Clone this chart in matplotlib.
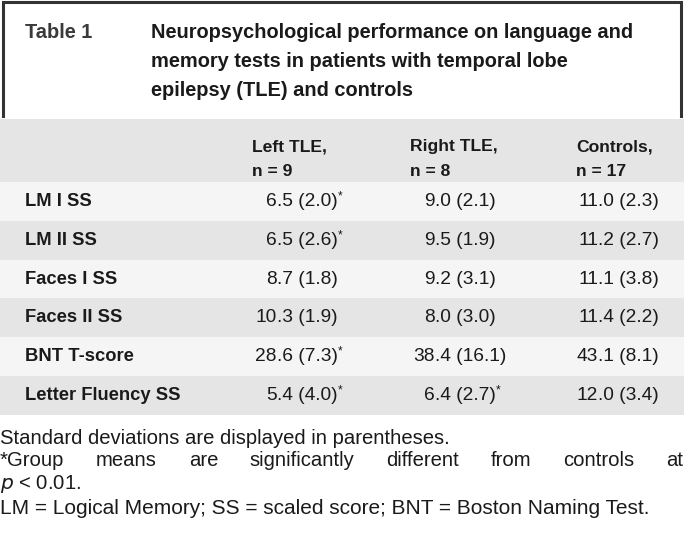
import matplotlib.pyplot as plt
from matplotlib.patches import Rectangle

# Table content
table_label = "Table 1"
title_lines = [
    "Neuropsychological performance on language and",
    "memory tests in patients with temporal lobe",
    "epilepsy (TLE) and controls",
]
col_headers = [("Left TLE,", "n = 9"), ("Right TLE,", "n = 8"), ("Controls,", "n = 17")]
row_labels = ["LM I SS", "LM II SS", "Faces I SS", "Faces II SS",
              "BNT T-score", "Letter Fluency SS"]
left_tle = ["6.5 (2.0)*", "6.5 (2.6)*", "8.7 (1.8)", "10.3 (1.9)", "28.6 (7.3)*", "5.4 (4.0)*"]
right_tle = ["9.0 (2.1)", "9.5 (1.9)", "9.2 (3.1)", "8.0 (3.0)", "38.4 (16.1)", "6.4 (2.7)*"]
controls = ["11.0 (2.3)", "11.2 (2.7)", "11.1 (3.8)", "11.4 (2.2)", "43.1 (8.1)", "12.0 (3.4)"]
footnote_1 = "Standard deviations are displayed in parentheses."
footnote_2 = "*Group means are significantly different from controls at"
footnote_3 = "$\\it{p}$ < 0.01."
footnote_4 = "LM = Logical Memory; SS = scaled score; BNT = Boston Naming Test."

plt.rcParams["font.family"] = ["Liberation Sans", "DejaVu Sans"]
TXT = "#1a1a1a"
GRAY = "#e5e5e5"
LIGHT = "#f5f5f5"

W, H = 684, 545
fig = plt.figure(figsize=(W / 100, H / 100), dpi=100)
ax = fig.add_axes([0, 0, 1, 1])
ax.set_xlim(0, W)
ax.set_ylim(H, 0)
ax.axis("off")

# title box border (top, left, right)
ax.plot([3, 3, 681, 681], [116, 2, 2, 116], color="#333333", lw=2.2,
        solid_joinstyle="miter")

ax.text(25, 32, table_label, fontsize=14.4, fontweight="bold", color="#3a3a3a",
        va="center")
for i, line in enumerate(title_lines):
    ax.text(151, 32 + i * 29.5, line, fontsize=14.4, fontweight="bold",
            color=TXT, va="center")

# header band
header_top, header_bot = 119, 182
ax.add_patch(Rectangle((0, header_top), W, header_bot - header_top, color=GRAY, lw=0))
col_x = [252, 410, 576]
for (h1, h2), x in zip(col_headers, col_x):
    ax.text(x, 147, h1, fontsize=12.6, fontweight="bold", color=TXT, va="center")
    ax.text(x, 171, h2, fontsize=12.6, fontweight="bold", color=TXT, va="center")

# body rows
row_h = 38.8
dec_x = [277, 435, 598]
fig.canvas.draw()
rend = fig.canvas.get_renderer()
for r, label in enumerate(row_labels):
    top = header_bot + r * row_h
    ax.add_patch(Rectangle((0, top), W, row_h, color=LIGHT if r % 2 == 0 else GRAY, lw=0))
    yc = top + row_h / 2
    ax.text(25, yc, label, fontsize=13.2, fontweight="bold", color=TXT, va="center")
    for col, x in zip([left_tle, right_tle, controls], dec_x):
        s = col[r]
        star = s.endswith("*")
        s = s.rstrip("*")
        ip, rest = s.split(".", 1)
        ax.text(x, yc, ip, fontsize=13.8, color=TXT, va="center", ha="right")
        t = ax.text(x, yc, "." + rest, fontsize=13.8, color=TXT, va="center", ha="left")
        if star:
            bb = t.get_window_extent(renderer=rend).transformed(ax.transData.inverted())
            ax.text(bb.x1, yc - 5, "*", fontsize=8.5, color=TXT, va="center", ha="left")

# footnotes
fs = 14.6
ax.text(0, 438, footnote_1, fontsize=fs, color=TXT, va="center")

# justified line
words = footnote_2.split()
widths = []
tmp = []
for w in words:
    t = ax.text(0, 461, w, fontsize=fs, color=TXT, va="center")
    widths.append(t.get_window_extent(renderer=rend).width)
    tmp.append(t)
gap = (W - 1 - sum(widths)) / (len(words) - 1)
x = 0
for t, w in zip(tmp, widths):
    t.set_x(x)
    x += w + gap

ax.text(0, 484, footnote_3, fontsize=fs, color=TXT, va="center")
ax.text(0, 508, footnote_4, fontsize=15.0, color=TXT, va="center")

fig.savefig("out.png", dpi=100)
